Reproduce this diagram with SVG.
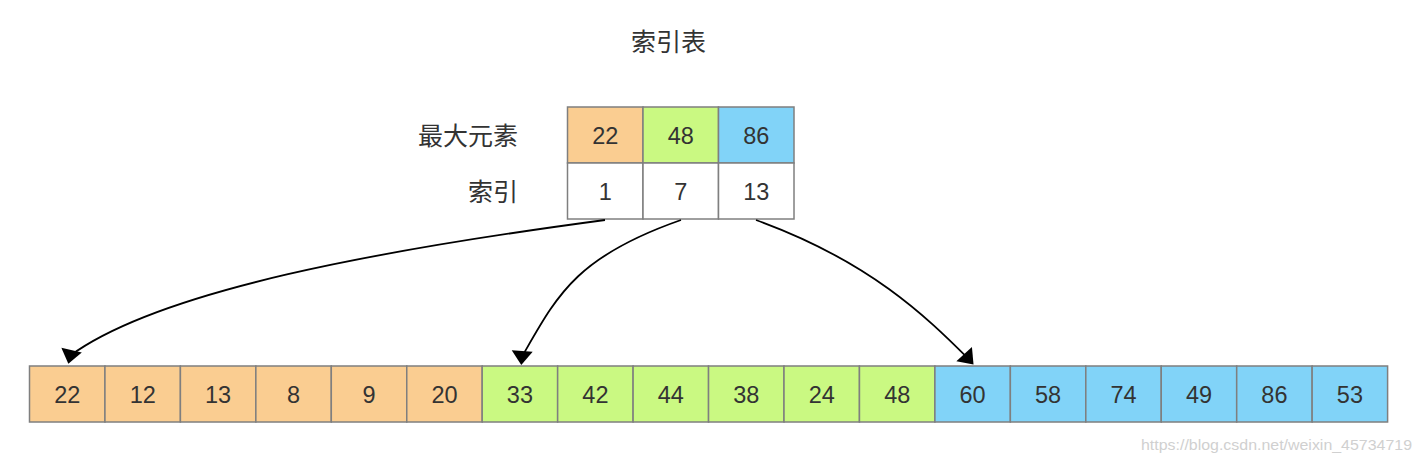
<svg xmlns="http://www.w3.org/2000/svg" width="1421" height="465" viewBox="0 0 1421 465">
  <style>
    .cell { stroke: #7f7f7f; stroke-width: 1.5; }
    .o { fill: #FACD91; }
    .g { fill: #CAF982; }
    .b { fill: #81D3F8; }
    .w { fill: #FFFFFF; }
    .num { font-family: "Liberation Sans", Arial, sans-serif; font-size: 23.5px; fill: #333333; text-anchor: middle; }
    .cjk { font-family: "Noto Sans CJK SC", "Liberation Sans", sans-serif; font-size: 25px; fill: #333333; }
    .edge { fill: none; stroke: #000000; stroke-width: 1.8; }
  </style>
  <defs>
    <marker id="arrow" markerUnits="userSpaceOnUse" markerWidth="14" markerHeight="21" refX="12" refY="10.5" orient="auto" overflow="visible">
      <path d="M0,0 L14,10.5 L0,21 Z" fill="#000000"/>
    </marker>
  </defs>
  <rect width="1421" height="465" fill="#FFFFFF"/>

  <g id="title">
    <text class="cjk" x="668.5" y="51" text-anchor="middle">索引表</text>
  </g>
  <g id="label-max">
    <text class="cjk" x="518" y="145" text-anchor="end">最大元素</text>
  </g>
  <g id="label-index">
    <text class="cjk" x="518" y="201" text-anchor="end">索引</text>
  </g>

  <g id="index-table">
    <g id="idx-1">
      <rect class="cell o" x="567.5" y="107" width="75.5" height="56"/>
      <text class="num" x="605.2" y="144">22</text>
      <rect class="cell w" x="567.5" y="163" width="75.5" height="56"/>
      <text class="num" x="605.2" y="200">1</text>
    </g>
    <g id="idx-2">
      <rect class="cell g" x="643" y="107" width="75.5" height="56"/>
      <text class="num" x="680.7" y="144">48</text>
      <rect class="cell w" x="643" y="163" width="75.5" height="56"/>
      <text class="num" x="680.7" y="200">7</text>
    </g>
    <g id="idx-3">
      <rect class="cell b" x="718.5" y="107" width="75.5" height="56"/>
      <text class="num" x="756.2" y="144">86</text>
      <rect class="cell w" x="718.5" y="163" width="75.5" height="56"/>
      <text class="num" x="756.2" y="200">13</text>
    </g>
  </g>

  <g id="array">
    <g id="a0"><rect class="cell o" x="29.5" y="366" width="75.45" height="56"/><text class="num" x="67.2" y="403">22</text></g>
    <g id="a1"><rect class="cell o" x="104.95" y="366" width="75.45" height="56"/><text class="num" x="142.7" y="403">12</text></g>
    <g id="a2"><rect class="cell o" x="180.4" y="366" width="75.45" height="56"/><text class="num" x="218.1" y="403">13</text></g>
    <g id="a3"><rect class="cell o" x="255.85" y="366" width="75.45" height="56"/><text class="num" x="293.6" y="403">8</text></g>
    <g id="a4"><rect class="cell o" x="331.3" y="366" width="75.45" height="56"/><text class="num" x="369" y="403">9</text></g>
    <g id="a5"><rect class="cell o" x="406.75" y="366" width="75.45" height="56"/><text class="num" x="444.5" y="403">20</text></g>
    <g id="a6"><rect class="cell g" x="482.2" y="366" width="75.45" height="56"/><text class="num" x="519.9" y="403">33</text></g>
    <g id="a7"><rect class="cell g" x="557.65" y="366" width="75.45" height="56"/><text class="num" x="595.4" y="403">42</text></g>
    <g id="a8"><rect class="cell g" x="633.1" y="366" width="75.45" height="56"/><text class="num" x="670.8" y="403">44</text></g>
    <g id="a9"><rect class="cell g" x="708.55" y="366" width="75.45" height="56"/><text class="num" x="746.3" y="403">38</text></g>
    <g id="a10"><rect class="cell g" x="784" y="366" width="75.45" height="56"/><text class="num" x="821.7" y="403">24</text></g>
    <g id="a11"><rect class="cell g" x="859.45" y="366" width="75.45" height="56"/><text class="num" x="897.2" y="403">48</text></g>
    <g id="a12"><rect class="cell b" x="934.9" y="366" width="75.45" height="56"/><text class="num" x="972.6" y="403">60</text></g>
    <g id="a13"><rect class="cell b" x="1010.35" y="366" width="75.45" height="56"/><text class="num" x="1048.1" y="403">58</text></g>
    <g id="a14"><rect class="cell b" x="1085.8" y="366" width="75.45" height="56"/><text class="num" x="1123.5" y="403">74</text></g>
    <g id="a15"><rect class="cell b" x="1161.25" y="366" width="75.45" height="56"/><text class="num" x="1199" y="403">49</text></g>
    <g id="a16"><rect class="cell b" x="1236.7" y="366" width="75.45" height="56"/><text class="num" x="1274.4" y="403">86</text></g>
    <g id="a17"><rect class="cell b" x="1312.15" y="366" width="75.45" height="56"/><text class="num" x="1349.9" y="403">53</text></g>
  </g>

  <g id="connectors">
    <path class="edge" marker-end="url(#arrow)" d="M605,220 C380,250 160,290 70.3,355.5 L68.8,361.8"/>
    <path class="edge" marker-end="url(#arrow)" d="M681,220 C575,257 556.8,296.1 521.8,357 L521.4,363"/>
    <path class="edge" marker-end="url(#arrow)" d="M756,220 C868.8,260.8 925.9,316.3 968.3,358.7 L972.2,363"/>
  </g>

  <g id="watermark">
    <text x="1141" y="450" textLength="271" lengthAdjust="spacingAndGlyphs" style="font-family: 'Liberation Sans', Arial, sans-serif; font-size: 15px; fill: #d0d0d0;">https://blog.csdn.net/weixin_45734719</text>
  </g>
</svg>
